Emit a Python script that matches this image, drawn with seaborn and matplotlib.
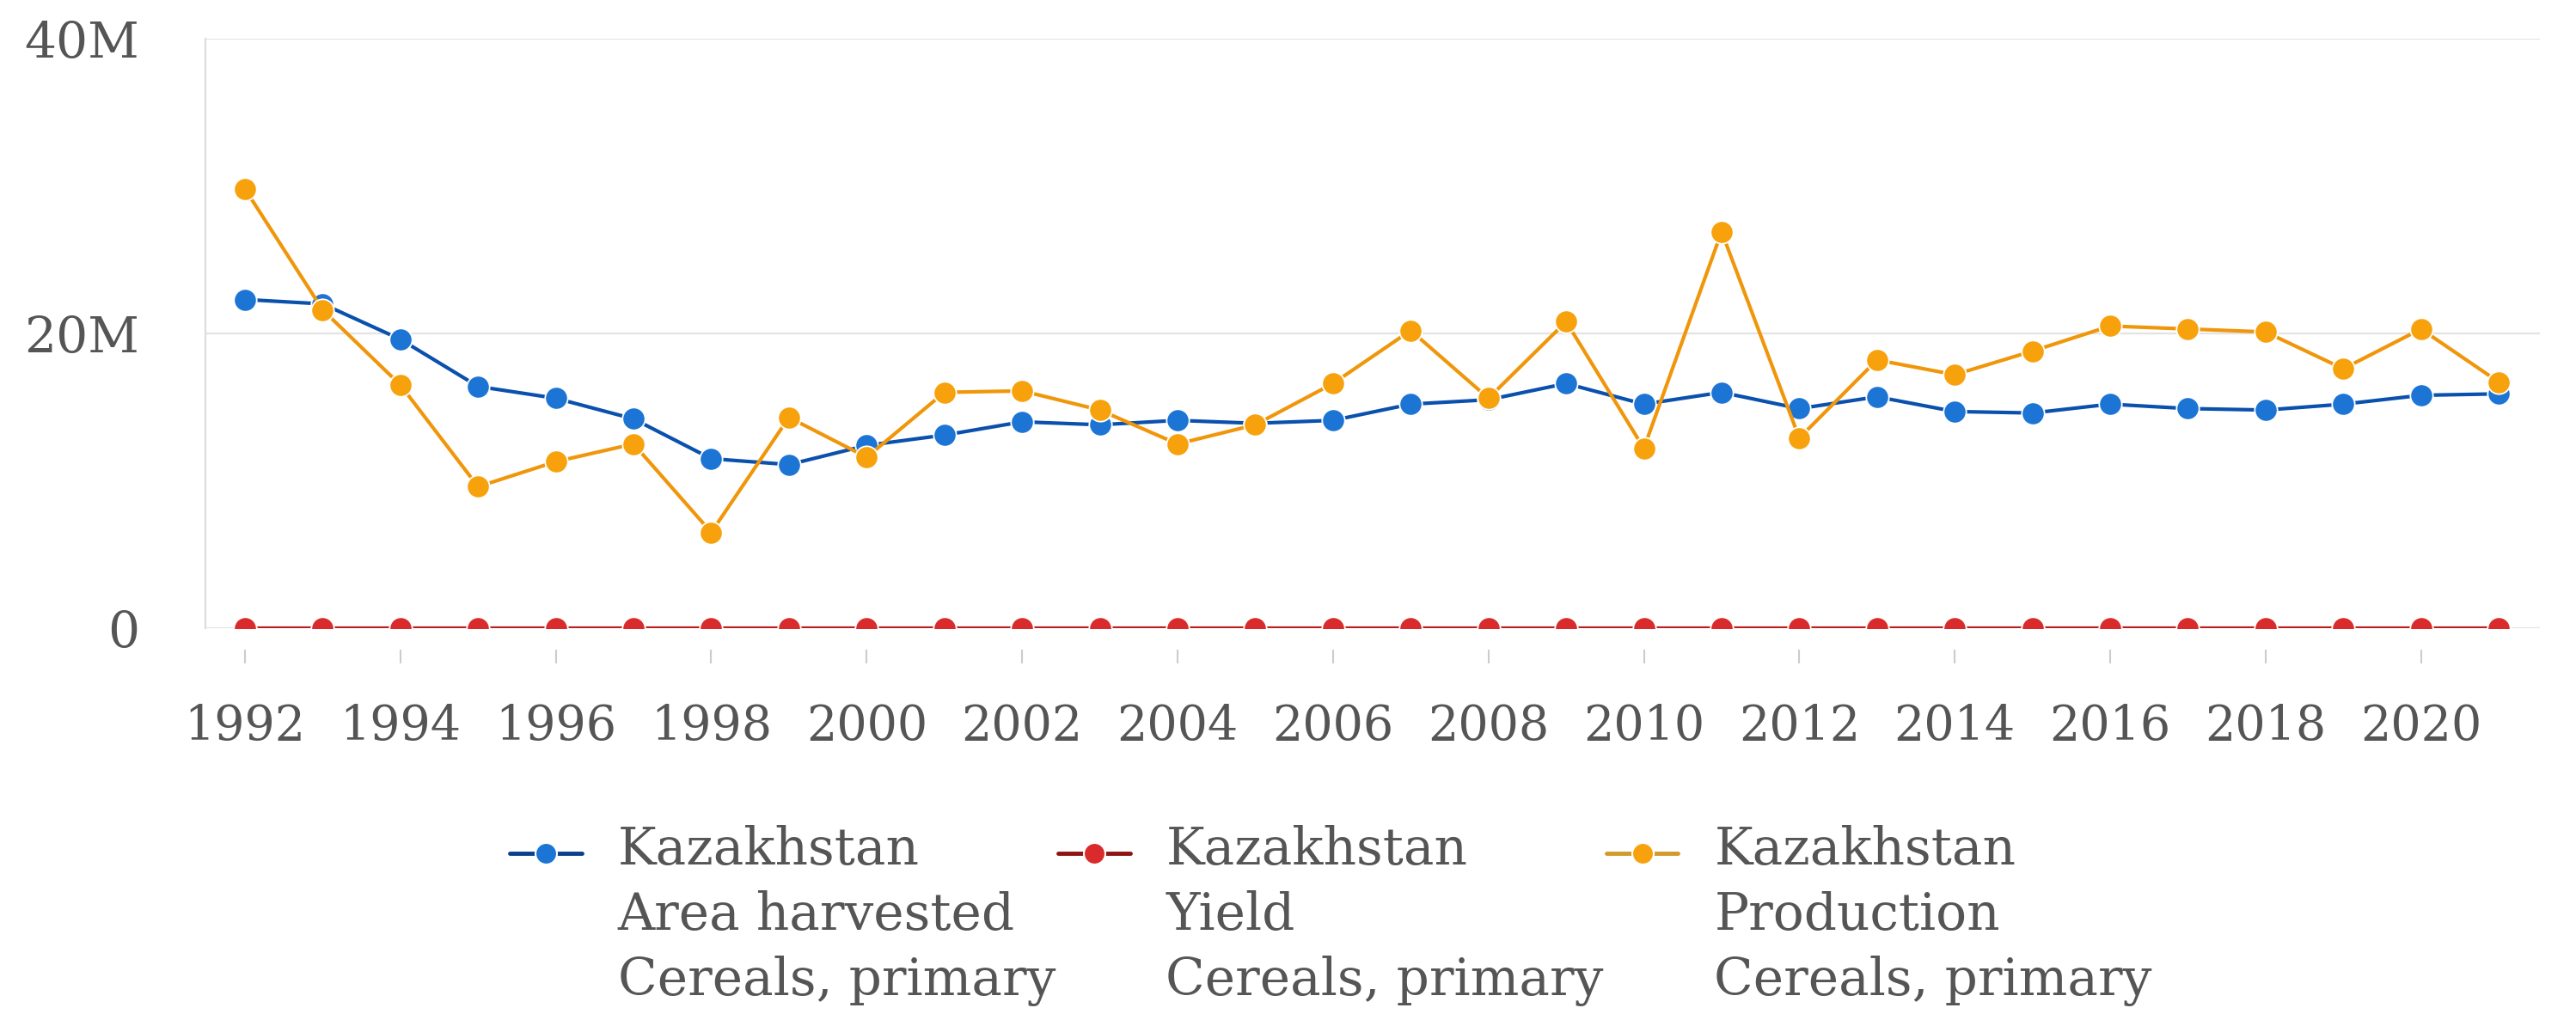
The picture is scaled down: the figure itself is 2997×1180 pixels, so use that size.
import numpy as np
import pandas as pd
import seaborn as sns
import matplotlib.pyplot as plt
from matplotlib.ticker import FuncFormatter
from matplotlib.lines import Line2D
from matplotlib.legend_handler import HandlerLine2D

# Data
years = list(range(1992, 2022))
area_harvested = [22.3, 22.0, 19.6, 16.4, 15.6, 14.2, 11.5, 11.1, 12.4, 13.1,
                  14.0, 13.8, 14.1, 13.9, 14.1, 15.2, 15.5, 16.6, 15.2, 16.0,
                  14.9, 15.7, 14.7, 14.6, 15.2, 14.9, 14.8, 15.2, 15.8, 15.9]
production = [29.8, 21.6, 16.5, 9.6, 11.3, 12.5, 6.5, 14.3, 11.6, 16.0,
              16.1, 14.8, 12.5, 13.8, 16.6, 20.2, 15.6, 20.8, 12.2, 26.9,
              12.9, 18.2, 17.2, 18.8, 20.5, 20.3, 20.1, 17.6, 20.3, 16.7]
# yield (kg/ha) is tiny on this scale and sits on the zero line
yield_kg_ha = [1340, 990, 840, 590, 720, 880, 570, 1290, 940, 1220,
               1150, 1070, 890, 990, 1180, 1330, 1010, 1250, 800, 1680,
               870, 1160, 1170, 1290, 1350, 1360, 1360, 1160, 1280, 1060]

labels = ["Kazakhstan\nArea harvested\nCereals, primary",
          "Kazakhstan\nYield\nCereals, primary",
          "Kazakhstan\nProduction\nCereals, primary"]
line_colors = ["#0a50ad", "#b81e1e", "#f0960a"]
legend_line_colors = ["#0a3f8c", "#8e1414", "#d19a2a"]
marker_colors = ["#1c74d4", "#d92b2b", "#f7a20c"]

df = pd.DataFrame({
    "year": years * 3,
    "value": [v * 1e6 for v in area_harvested] + yield_kg_ha + [v * 1e6 for v in production],
    "series": [labels[0]] * 30 + [labels[1]] * 30 + [labels[2]] * 30,
})

sns.set_style("white")
plt.rcParams["font.family"] = ["DejaVu Serif"]
text_color = "#555555"
legend_size = 43
legend_spacing = 1.39


class FirstLineHandler(HandlerLine2D):
    # put the legend key next to the first line of a multi-line label
    def create_artists(self, legend, orig_handle, xdescent, ydescent,
                       width, height, fontsize, trans):
        arts = super().create_artists(legend, orig_handle, xdescent, ydescent,
                                      width, height, fontsize, trans)
        shift = fontsize * 0.898 * legend_spacing
        for a in arts:
            a.set_ydata(np.asarray(a.get_ydata()) + shift)
        return arts


fig = plt.figure(figsize=(29.97, 11.8), dpi=100)
ax = fig.add_axes([0.0797, 0.3805, 0.9063, 0.5814])

handles = []
for lab, lc, llc, mc in zip(labels, line_colors, legend_line_colors, marker_colors):
    sub = df[df["series"] == lab]
    sns.lineplot(data=sub, x="year", y="value", ax=ax, color=lc, linewidth=3,
                 marker="o", markersize=19, markerfacecolor=mc,
                 markeredgecolor="white", markeredgewidth=1.3, legend=False)
    handles.append(Line2D([0], [0], color=llc, linewidth=3.5, marker="o",
                          markersize=18, markerfacecolor=mc,
                          markeredgecolor="white", markeredgewidth=1.5))

ax.set_xlim(1991.49, 2021.53)
ax.set_ylim(0, 40e6)
ax.set_yticks([0, 20e6, 40e6])
ax.yaxis.set_major_formatter(FuncFormatter(lambda v, p: "0" if v == 0 else f"{v / 1e6:.0f}M"))
ax.set_xticks(range(1992, 2022, 2))
ax.set_xlabel("")
ax.set_ylabel("")

ax.grid(axis="y", color="#e3e3e3", linewidth=1.6)
ax.grid(axis="x", visible=False)
ax.axhline(0, color="#cccccc", linewidth=2, zorder=0.5)
for side in ["top", "right"]:
    ax.spines[side].set_visible(False)
ax.spines["left"].set_color("#dddddd")
ax.spines["left"].set_linewidth(1.6)
ax.spines["bottom"].set_visible(False)
ax.spines["bottom"].set_position(("outward", 18))

ax.tick_params(axis="x", length=11.5, width=1.5, color="#cccccc", pad=33,
               labelsize=40, labelcolor=text_color, direction="out", bottom=True)
ax.tick_params(axis="y", length=0, pad=55, labelsize=42, labelcolor=text_color)

leg = fig.legend(handles=handles, labels=labels, loc="upper left",
                 bbox_to_anchor=(0.188, 0.2115), ncol=3, frameon=False,
                 fontsize=legend_size, labelcolor=text_color, handlelength=1.4,
                 handletextpad=0.7, columnspacing=0.05, borderpad=0,
                 handler_map={Line2D: FirstLineHandler()})
for t in leg.get_texts():
    t.set_linespacing(legend_spacing)

fig.savefig("out.png", dpi=100, facecolor="white")
